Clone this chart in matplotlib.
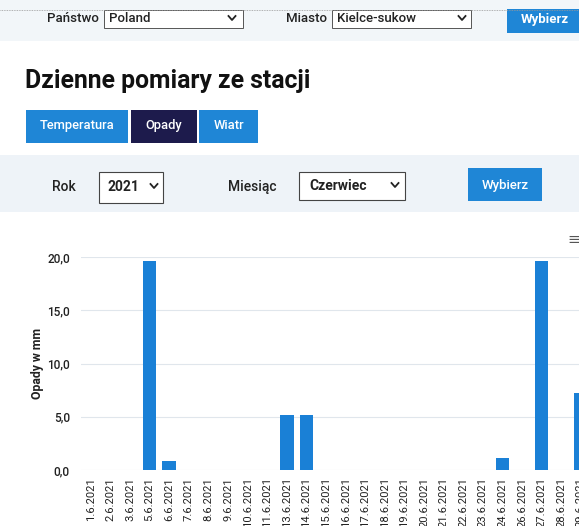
import matplotlib
matplotlib.use("Agg")
import matplotlib.pyplot as plt
from matplotlib.patches import Rectangle
from matplotlib.lines import Line2D

W, H = 579, 526

# daily precipitation, June 2021 (only days with a measurement are listed)
dates = ["1.6.2021", "2.6.2021", "3.6.2021", "5.6.2021", "6.6.2021", "7.6.2021",
         "8.6.2021", "9.6.2021", "10.6.2021", "11.6.2021", "13.6.2021", "14.6.2021",
         "15.6.2021", "16.6.2021", "17.6.2021", "18.6.2021", "19.6.2021", "20.6.2021",
         "21.6.2021", "22.6.2021", "23.6.2021", "24.6.2021", "26.6.2021", "27.6.2021",
         "28.6.2021", "29.6.2021"]
rain_mm = [0, 0, 0, 19.6, 0.8, 0,
           0, 0, 0, 0, 5.2, 5.2,
           0, 0, 0, 0, 0, 0,
           0, 0, 0, 1.1, 0, 19.6,
           0, 7.2]
y_ticks = [0, 5, 10, 15, 20]

tabs = ["Temperatura", "Opady", "Wiatr"]

BLUE = "#1f86d6"
NAVY = "#1d1b4c"
TXT = "#222222"

plt.rcParams["font.family"] = ["Roboto", "DejaVu Sans"]

fig = plt.figure(figsize=(W / 100, H / 100), dpi=100)
fig.patch.set_facecolor("white")


def box(x0, y0, x1, y1, **kw):
    fig.patches.append(Rectangle((x0 / W, 1 - y1 / H), (x1 - x0) / W, (y1 - y0) / H,
                                 transform=fig.transFigure, **kw))


def label(x, y, s, **kw):
    kw.setdefault("va", "center")
    kw.setdefault("color", TXT)
    fig.text(x / W, 1 - y / H, s, **kw)


def chevron(x, y):
    fig.add_artist(Line2D([(x - 3.5) / W, x / W, (x + 3.5) / W],
                          [1 - (y - 2) / H, 1 - (y + 2) / H, 1 - (y - 2) / H],
                          color=TXT, lw=1.3, transform=fig.transFigure))


# top selector bar
box(0, 0, W, 41, facecolor="#f2f6f9", edgecolor="none")
fig.add_artist(Line2D([0, 1], [1 - 10 / H, 1 - 10 / H], color="#999999", lw=0.6,
                      ls=(0, (1, 1)), transform=fig.transFigure))
label(47, 19, "Państwo", fontsize=9.5, fontweight="medium")
box(104, 10, 243, 28, facecolor="white", edgecolor="#555555", lw=0.7)
label(109, 19, "Poland", fontsize=9.5, fontweight="medium")
chevron(232, 18)
label(286, 19, "Miasto", fontsize=9.5, fontweight="medium")
box(332, 10, 471, 28, facecolor="white", edgecolor="#555555", lw=0.7)
label(337, 19, "Kielce-sukow", fontsize=9.5, fontweight="medium")
chevron(462, 18)
box(507, 9, 585, 33, facecolor=BLUE, edgecolor="none")
label(545, 20, "Wybierz", fontsize=9.5, fontweight="bold", color="white", ha="center")

label(25, 88, "Dzienne pomiary ze stacji", fontsize=17.8, fontweight="bold",
      color="#111111", va="baseline")

# tabs
tab_x = [(26, 128), (131, 197), (199, 258)]
for (x0, x1), name in zip(tab_x, tabs):
    fc = NAVY if name == "Opady" else BLUE
    box(x0, 110, x1, 143, facecolor=fc, edgecolor="none")
    label((x0 + x1) / 2, 126, name, fontsize=9.3, fontweight="medium", color="white", ha="center")

# year / month filter bar
box(0, 155, W, 212, facecolor="#eef3f8", edgecolor="none")
label(52, 187, "Rok", fontsize=10, fontweight="medium")
box(99, 172, 163, 203, facecolor="white", edgecolor="#444444", lw=0.8)
label(107, 187, "2021", fontsize=10, fontweight="bold")
chevron(154, 186)
label(228, 187, "Miesiąc", fontsize=10, fontweight="medium")
box(299, 172, 405, 200, facecolor="white", edgecolor="#444444", lw=0.8)
label(309, 186, "Czerwiec", fontsize=10, fontweight="bold")
chevron(395, 185)
box(468, 168, 542, 201, facecolor=BLUE, edgecolor="none")
label(505, 185, "Wybierz", fontsize=9.5, fontweight="medium", color="white", ha="center")

# chart
step = 19.6
left, top, bottom = 81, 257, 470
right = left + step * len(dates)
ax = fig.add_axes([left / W, 1 - bottom / H, (right - left) / W, (bottom - top) / H])
x = list(range(len(dates)))
ax.bar(x, rain_mm, width=0.7, color="#1a80d6", zorder=3)
ax.set_xlim(-0.5, len(dates) - 0.5)
ax.set_ylim(0, 20)
ax.set_yticks(y_ticks)
ax.set_yticklabels([f"{v:.1f}".replace(".", ",") for v in y_ticks])
ax.set_xticks(x)
ax.set_xticklabels(dates, rotation=90)
ax.tick_params(axis="x", length=0, pad=5, labelsize=8.1, labelcolor="#222222")
ax.tick_params(axis="y", length=0, pad=8, labelsize=8.5, labelcolor="#222222")
for t in ax.get_yticklabels():
    t.set_fontweight("medium")
ax.grid(axis="y", color="#e0e6ec", lw=0.8, zorder=0)
for s in ax.spines.values():
    s.set_visible(False)
ax.set_ylabel("Opady w mm", fontsize=8.8, fontweight="bold", color="#222222")
ax.yaxis.label.set_verticalalignment("center")
ax.yaxis.set_label_coords((37 - left) / (right - left), 0.5)

label(567, 240, "≡", fontsize=11, color="#555555")

fig.savefig("out.png", dpi=100)
